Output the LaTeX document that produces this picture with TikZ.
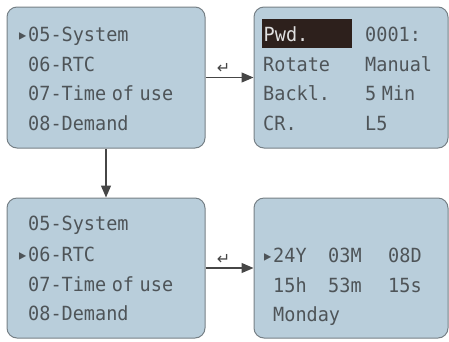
\documentclass[tikz,border=0pt]{standalone}
\usepackage{fontspec}
\usepackage{xcolor}
\usepackage{tikz}
\usetikzlibrary{arrows.meta, positioning}
\newfontfamily\lcdfont[WordSpace=0.5, FakeStretch=0.95]{DejaVu Sans Mono}
\newfontfamily\keyfont{DejaVu Sans}
\definecolor{screencolor}{RGB}{185, 206, 219}
\definecolor{framecolor}{RGB}{118, 128, 134}
\definecolor{lcdtext}{RGB}{78, 84, 88}
\definecolor{hilitecolor}{RGB}{45, 32, 28}
\definecolor{arrowcolor}{RGB}{70, 70, 70}

\begin{document}
\begin{tikzpicture}[
    x=1pt, y=-1pt,
    screen/.style={draw=framecolor, fill=screencolor, rounded corners=10pt, line width=1pt, minimum width=198pt, minimum height=141pt, inner sep=0pt},
    lcd/.style={anchor=base west, inner sep=0pt, text=lcdtext, font=\lcdfont\fontsize{19.5}{19.5}\selectfont},
    hilite/.style={fill=hilitecolor, text=white!88!black, text width=87pt, text height=20pt, text depth=5pt, inner xsep=1.5pt, inner ysep=2pt},
    flow/.style={-{Triangle[length=12pt, width=10pt]}, line width=1.2pt, draw=arrowcolor},
    enter/.style={text=arrowcolor, inner sep=1pt, font=\keyfont\fontsize{16}{16}\selectfont}
]
    \useasboundingbox (0, 0) rectangle (449, 341);

    % Screens
    \node[screen] (menuA) at (106, 77.5) {};
    \node[screen, minimum width=194pt] (setA) at (351, 77.5) {};
    \node[screen, minimum height=140pt] (menuB) at (106, 268) {};
    \node[screen, minimum width=194pt, minimum height=140pt] (rtc) at (351, 268) {};

    % Menu, cursor on 05
    \node[lcd] (curA) at (17, 41) {▸};
    \node[lcd] (sysA) at (28, 41) {05-System};
    \node[lcd] (rtcA) at (28, 71) {06-RTC};
    \node[lcd] (touA) at (28, 100) {07-Time of use};
    \node[lcd] (demA) at (28, 130) {08-Demand};

    % System settings
    \node[lcd, hilite] (pwd) at (262, 41) {Pwd.};
    \node[lcd] (pwdval) at (365, 41) {0001:};
    \node[lcd] (rot) at (263, 71) {Rotate};
    \node[lcd] (rotval) at (365, 71) {Manual};
    \node[lcd] (bkl) at (263, 100) {Backl.};
    \node[lcd] (bklval) at (365, 100) {5 Min};
    \node[lcd] (cr) at (263, 130) {CR.};
    \node[lcd] (crval) at (365, 130) {L5};

    % Menu, cursor on 06
    \node[lcd] (sysB) at (28, 230) {05-System};
    \node[lcd] (curB) at (17, 261) {▸};
    \node[lcd] (rtcB) at (28, 261) {06-RTC};
    \node[lcd] (touB) at (28, 291) {07-Time of use};
    \node[lcd] (demB) at (28, 320) {08-Demand};

    % Clock
    \node[lcd] (curC) at (262, 262) {▸};
    \node[lcd] (year) at (273, 262) {24Y};
    \node[lcd] (month) at (328, 262) {03M};
    \node[lcd] (day) at (388, 262) {08D};
    \node[lcd] (hour) at (273, 292) {15h};
    \node[lcd] (minute) at (328, 292) {53m};
    \node[lcd] (second) at (388, 292) {15s};
    \node[lcd] (wday) at (273, 321) {Monday};

    % Arrows
    \draw[flow] (menuA) -- (setA) node[enter, midway, above=2pt, xshift=-6pt] (keyA) {↵};
    \draw[flow] (menuA) -- (menuB);
    \draw[flow] (menuB) -- (rtc) node[enter, midway, above=2pt, xshift=-6pt] (keyB) {↵};
\end{tikzpicture}
\end{document}
